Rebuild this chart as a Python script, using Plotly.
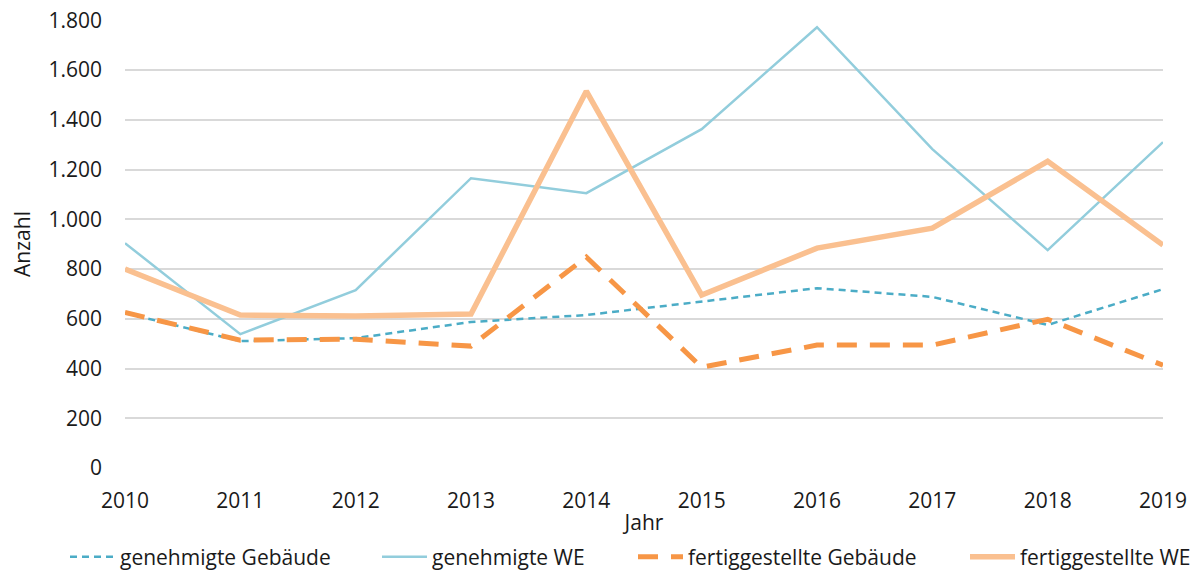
import plotly.graph_objects as go

years = [2010, 2011, 2012, 2013, 2014, 2015, 2016, 2017, 2018, 2019]
genehmigte_gebaeude = [623, 510, 522, 587, 615, 668, 723, 688, 575, 719]
genehmigte_we = [904, 538, 715, 1165, 1105, 1362, 1772, 1282, 876, 1310]
fertig_gebaeude = [625, 514, 518, 490, 848, 405, 494, 494, 598, 413]
fertig_we = [800, 615, 611, 619, 1515, 695, 884, 964, 1233, 896]
y_ticks = [0, 200, 400, 600, 800, 1000, 1200, 1400, 1600, 1800]
y_ticklabels = ["0", "200", "400", "600", "800", "1.000", "1.200", "1.400", "1.600", "1.800"]

font = "Open Sans, Lato, sans-serif"
W, H = 1204, 572

fig = go.Figure()
fig.add_trace(go.Scatter(x=years, y=genehmigte_gebaeude, mode="lines", name="genehmigte Gebäude",
                         legend="legend",
                         line=dict(color="#4BACC6", width=2.5, dash="7px,5px")))
fig.add_trace(go.Scatter(x=years, y=genehmigte_we, mode="lines", name="genehmigte WE",
                         legend="legend2",
                         line=dict(color="#92CDDC", width=2.5)))
fig.add_trace(go.Scatter(x=years, y=fertig_gebaeude, mode="lines", name="fertiggestellte Gebäude",
                         legend="legend3",
                         line=dict(color="#F79646", width=5, dash="20px,13px")))
fig.add_trace(go.Scatter(x=years, y=fertig_we, mode="lines", name="fertiggestellte WE",
                         legend="legend4",
                         line=dict(color="#FAC090", width=5.5)))


def leg(text_left):
    return dict(orientation="h", x=(text_left - 55) / W, xref="container", xanchor="left",
                y=1 - 557 / H, yref="container", yanchor="middle",
                font=dict(size=21), itemwidth=45, bgcolor="rgba(0,0,0,0)")


fig.update_layout(
    template="none",
    width=W, height=H,
    margin=dict(l=125, r=41, t=20, b=104, autoexpand=False),
    paper_bgcolor="white", plot_bgcolor="white",
    font=dict(family=font, size=20, color="#1a1a1a"),
    showlegend=True,
    legend=leg(120), legend2=leg(432), legend3=leg(688), legend4=leg(1020),
    xaxis=dict(range=[2010, 2019], tickmode="array", tickvals=years, ticktext=[str(y) for y in years],
               showgrid=False, zeroline=False, showline=False, ticks="", automargin=False,
               ticklabelstandoff=18, ticklabeloverflow="allow",
               title=dict(text="Jahr", standoff=2, font=dict(size=21)), tickfont=dict(size=21)),
    yaxis=dict(range=[0, 1801], tickmode="array", tickvals=y_ticks, ticktext=y_ticklabels,
               showgrid=True, gridcolor="#d9d9d9", gridwidth=1.5, zeroline=False, showline=False,
               automargin=False, ticklabelstandoff=22, ticklabeloverflow="allow",
               title=dict(text="Anzahl", standoff=12, font=dict(size=21)), tickfont=dict(size=21), ticks=""),
)

fig.write_html("out.html", config={"displayModeBar": False},
               post_script="document.body.style.margin='0';document.body.style.overflow='hidden';")
